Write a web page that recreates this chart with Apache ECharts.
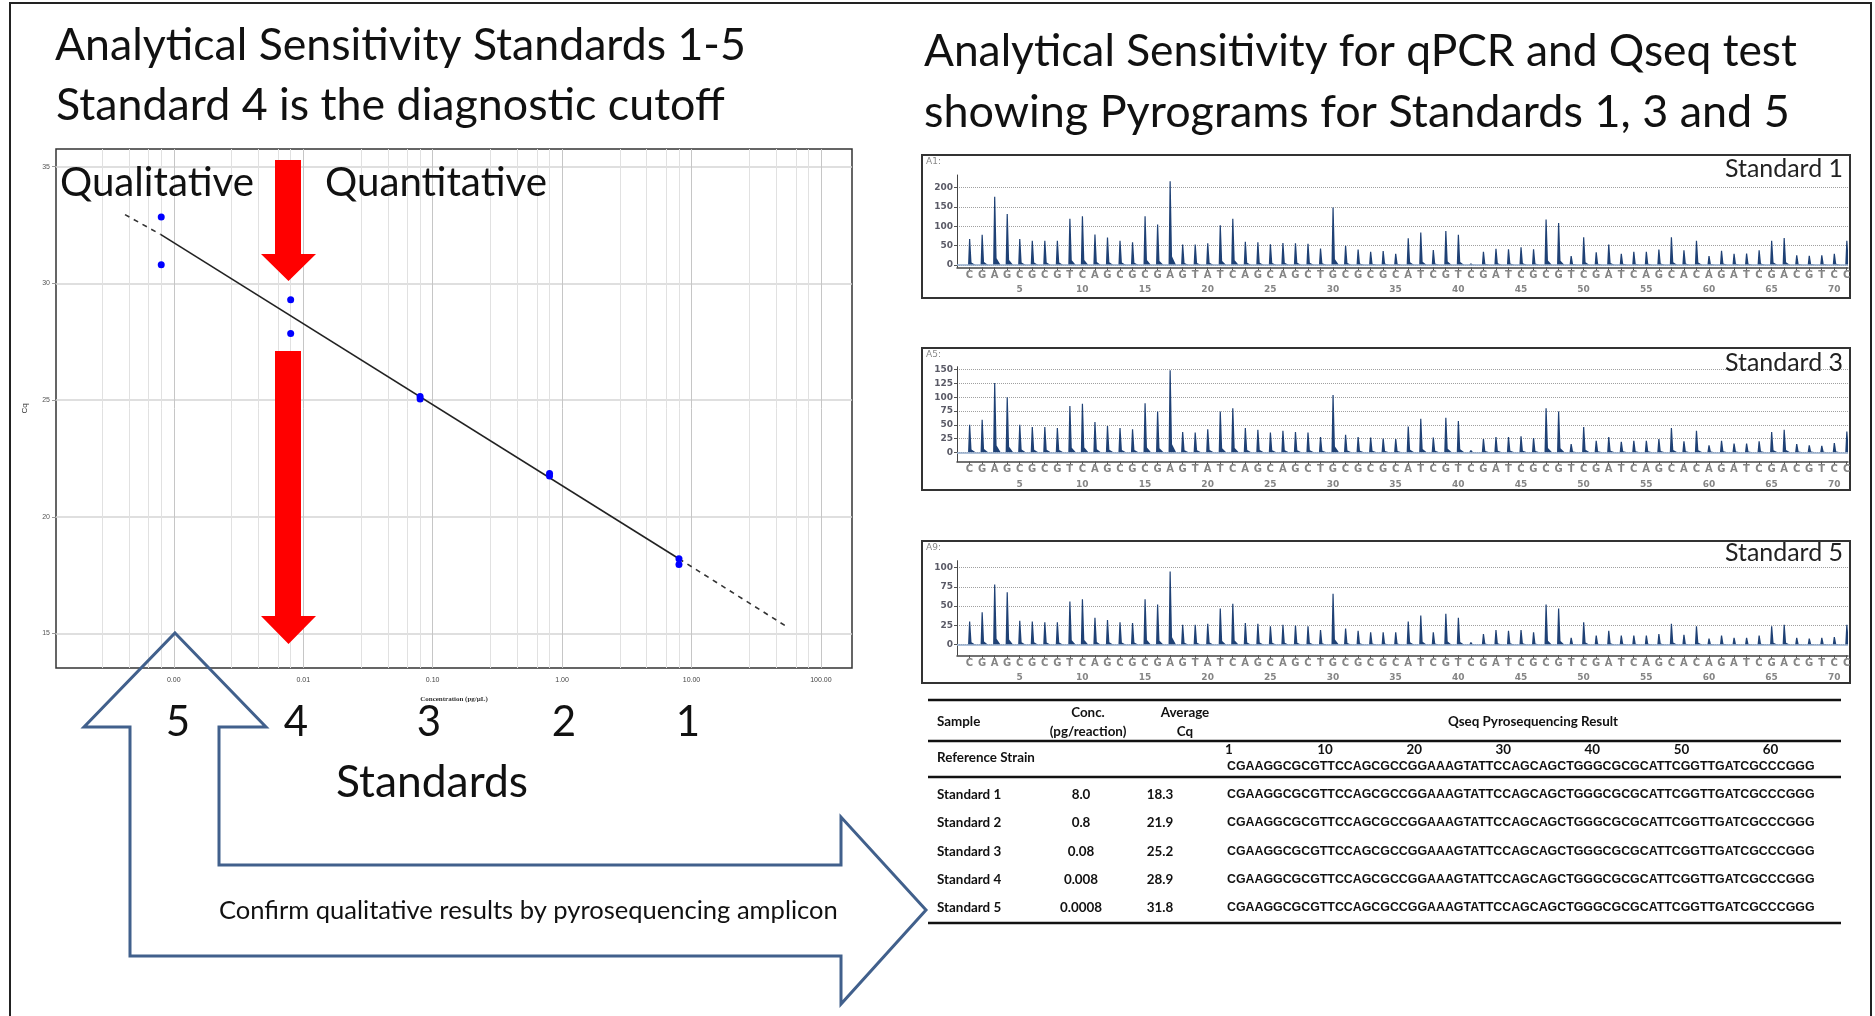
<!DOCTYPE html>
<html>
<head>
<meta charset="utf-8">
<title>Analytical Sensitivity</title>
<script src="https://cdn.jsdelivr.net/npm/echarts@6/dist/echarts.min.js"></script>
<style>
  html, body { margin: 0; padding: 0; background: #fff; }
  #main { width: 1875px; height: 1016px; }
</style>
</head>
<body>
<div id="main"></div>
<script>
// standard curve (qPCR)
var concPoints = [8, 8, 0.8, 0.8, 0.08, 0.08, 0.008, 0.008, 0.0008, 0.0008];
var cqPoints = [18.2, 17.95, 21.75, 21.85, 25.05, 25.15, 29.3, 27.85, 32.85, 30.8];
var fitConc = [0.00079, 8];
var fitCq = [32.1, 18.2];
var fitLeftConc = [0.00042, 0.00079];
var fitLeftCq = [32.95, 32.1];
var fitRightConc = [8, 56];
var fitRightCq = [18.2, 15.25];
var concTicks = [0.001, 0.01, 0.1, 1, 10, 100];
var minorSteps = [2.8, 4.5, 6.4, 8];
var cqTicks = [15, 20, 25, 30, 35];
var standardDigits = ['5', '4', '3', '2', '1'];

// pyrograms
var dispensation = 'CGAGCGCGTCAGCGCGAGTATCAGCAGCTGCGCGCATCGTCGATCGCGTCGATCAGCACAGATCGACGTCC'.split('');
var positionTicks = [5, 10, 15, 20, 25, 30, 35, 40, 45, 50, 55, 60, 65, 70];
var std1Peaks = [67, 78, 177, 132, 67, 63, 63, 63, 120, 126,
  79, 71, 63, 59, 126, 105, 217, 53, 53, 56,
  103, 120, 60, 59, 54, 57, 56, 55, 43, 149,
  50, 40, 34, 36, 29, 69, 84, 39, 88, 78,
  4, 34, 42, 41, 46, 41, 118, 109, 23, 72,
  33, 53, 29, 34, 34, 40, 72, 38, 63, 23,
  37, 29, 30, 38, 63, 70, 25, 24, 25, 29,
  63];
var std3Peaks = [50, 59, 126, 100, 50, 46, 46, 44, 84, 88,
  55, 48, 44, 42, 89, 74, 149, 37, 36, 42,
  74, 80, 44, 41, 36, 39, 37, 36, 28, 104,
  32, 28, 27, 25, 24, 47, 61, 27, 63, 57,
  4, 24, 28, 28, 29, 26, 80, 74, 15, 46,
  21, 28, 19, 21, 21, 24, 44, 20, 39, 13,
  21, 16, 16, 20, 37, 41, 15, 13, 12, 17,
  38];
var std5Peaks = [30, 42, 78, 68, 31, 30, 29, 29, 56, 59,
  35, 32, 29, 28, 59, 52, 95, 26, 26, 27,
  47, 53, 28, 27, 24, 26, 25, 24, 19, 66,
  21, 18, 16, 16, 16, 30, 38, 16, 40, 35,
  3, 14, 19, 18, 19, 16, 52, 47, 9, 29,
  12, 18, 12, 12, 12, 14, 27, 13, 24, 8,
  12, 9, 9, 12, 24, 26, 9, 8, 9, 10,
  26];
var std1Ticks = [0, 50, 100, 150, 200];
var std3Ticks = [0, 25, 50, 75, 100, 125, 150];
var std5Ticks = [0, 25, 50, 75, 100];
var wellNames = ['A1:', 'A5:', 'A9:'];
var pyroTitles = ['Standard 1', 'Standard 3', 'Standard 5'];

// results table
var tableSamples = ['Standard 1', 'Standard 2', 'Standard 3', 'Standard 4', 'Standard 5'];
var tableConc = ['8.0', '0.8', '0.08', '0.008', '0.0008'];
var tableCq = ['18.3', '21.9', '25.2', '28.9', '31.8'];
var referenceSeq = 'CGAAGGCGCGTTCCAGCGCCGGAAAGTATTCCAGCAGCTGGGCGCGCATTCGGTTGATCGCCCGGG';
var sampleSeqs = [referenceSeq, referenceSeq, referenceSeq, referenceSeq, referenceSeq];
var seqPositions = [1, 10, 20, 30, 40, 50, 60];

var measureCtx = document.createElement('canvas').getContext('2d');
function fitSize(str, family, weight, width) {
  measureCtx.font = weight + ' 100px "' + family + '"';
  return 100 * width / measureCtx.measureText(str).width;
}
function label(str, x, y, size, opts) {
  opts = opts || {};
  return {
    type: 'text', x: x, y: y, silent: true, z: 20,
    style: {
      text: str, fontSize: size, fontFamily: opts.family || 'Lato',
      fontWeight: opts.weight || 'normal', fill: opts.color || '#111',
      align: opts.align || 'left', verticalAlign: 'middle'
    }
  };
}
function fitLabel(str, x, y, width, opts) {
  opts = opts || {};
  var size = fitSize(str, opts.family || 'Lato', opts.weight || 'normal', width);
  return label(str, x, y, size, opts);
}
function hline(x1, x2, y, w) {
  return { type: 'line', silent: true, z: 20, shape: { x1: x1, y1: y, x2: x2, y2: y },
    style: { stroke: '#111', lineWidth: w } };
}
function toLog(arrC, arrQ) {
  return arrC.map(function (c, i) { return [Math.log10(c), arrQ[i]]; });
}

// gridline positions for the log axis
var majorLog = concTicks.map(Math.log10);
var minorLog = [];
for (var d = -4; d <= 2; d++) {
  minorSteps.forEach(function (s) {
    var v = d + Math.log10(s);
    if (v > -3.91 && v < 2.24) minorLog.push(v);
  });
}

// pyrogram panels
var pyroPeaks = [std1Peaks, std3Peaks, std5Peaks];
var pyroTicks = [std1Ticks, std3Ticks, std5Ticks];
var pyroRange = [[-6, 233], [-17, 155.5], [-13.8, 109]];
var pyroGrid = [[175, 92.3], [366.7, 95], [560.7, 94.6]];
var pyroBox = [[155, 143], [348, 142], [541, 142]];
var dispPositions = dispensation.map(function (c, i) { return i + 1; });

var grids = [{ left: 56, top: 149, width: 796, height: 519, show: true,
  borderColor: '#333', borderWidth: 1.5, backgroundColor: 'transparent' }];
var xAxes = [{
  gridIndex: 0, type: 'value', min: -3.91, max: 2.24, position: 'bottom',
  axisLine: { show: false, onZero: false },
  axisTick: { show: false, customValues: majorLog },
  axisLabel: { customValues: majorLog, fontSize: 7, color: '#444', margin: 9,
    fontFamily: 'Liberation Sans',
    formatter: function (v) { return Math.pow(10, v).toFixed(2); } },
  splitLine: { show: true, lineStyle: { color: '#c6c6c6', width: 1 } },
  name: 'Concentration (pg/\u00b5L)', nameLocation: 'middle', nameGap: 28,
  nameTextStyle: { fontSize: 7, fontWeight: 'bold', color: '#333', fontFamily: 'Liberation Serif' }
}, {
  gridIndex: 0, type: 'value', min: -3.91, max: 2.24, position: 'top',
  axisLine: { show: false, onZero: false },
  axisTick: { show: false, customValues: minorLog },
  axisLabel: { show: false },
  splitLine: { show: true, lineStyle: { color: '#e1e1e1', width: 1 } }
}];
var yAxes = [{
  gridIndex: 0, type: 'value', min: 13.52, max: 35.76,
  axisLine: { show: false, onZero: false },
  axisTick: { show: true, length: 4, customValues: cqTicks, lineStyle: { color: '#999' } },
  axisLabel: { customValues: cqTicks, fontSize: 7, color: '#555', margin: 6, fontFamily: 'Liberation Sans' },
  splitLine: { show: true, lineStyle: { color: '#d4d4d4', width: 1.5 } },
  name: 'Cq', nameLocation: 'middle', nameGap: 27,
  nameTextStyle: { fontSize: 8, color: '#333', fontFamily: 'Liberation Sans' }
}];

var series = [{
  type: 'line', xAxisIndex: 0, yAxisIndex: 0, data: toLog(fitConc, fitCq),
  symbol: 'none', lineStyle: { color: '#222', width: 1.6 }, z: 3
}, {
  type: 'line', xAxisIndex: 0, yAxisIndex: 0, data: toLog(fitLeftConc, fitLeftCq),
  symbol: 'none', lineStyle: { color: '#333', width: 1.6, type: [5, 5] }, z: 3
}, {
  type: 'line', xAxisIndex: 0, yAxisIndex: 0, data: toLog(fitRightConc, fitRightCq),
  symbol: 'none', lineStyle: { color: '#333', width: 1.6, type: [5, 5] }, z: 3
}, {
  type: 'scatter', xAxisIndex: 0, yAxisIndex: 0, data: toLog(concPoints, cqPoints),
  symbolSize: 7, itemStyle: { color: '#0000ff', opacity: 1 }, z: 5
}];

function peakItem(params, api) {
  var base = api.coord([api.value(0), 0]);
  var top = api.coord([api.value(0), api.value(1)]);
  var hgt = base[1] - top[1];
  return {
    type: 'polygon',
    shape: { points: [[base[0] - 1.5, base[1]], [top[0] - 0.5, top[1]], [top[0] + 0.7, top[1]],
      [base[0] + 2, base[1] - hgt * 0.1], [base[0] + 6, base[1]]] },
    style: { fill: '#1f4175' }
  };
}

pyroPeaks.forEach(function (peaks, k) {
  var g = k + 1;
  grids.push({ left: 957, top: pyroGrid[k][0], width: 891, height: pyroGrid[k][1] });
  xAxes.push({
    gridIndex: g, type: 'value', min: 0, max: 71.1, position: 'bottom',
    axisLine: { show: true, onZero: false, lineStyle: { color: '#444', width: 1.5 } },
    axisTick: { show: true, length: 3, customValues: dispPositions, lineStyle: { color: '#555' } },
    axisLabel: { customValues: dispPositions, fontSize: 10, fontWeight: 'bold', color: '#858585',
      fontFamily: 'DejaVu Sans', margin: 3,
      formatter: function (v) { return dispensation[v - 1]; } },
    splitLine: { show: false }
  });
  xAxes.push({
    gridIndex: g, type: 'value', min: 0, max: 71.1, position: 'bottom', offset: 0,
    axisLine: { show: false, onZero: false }, axisTick: { show: false },
    axisLabel: { customValues: positionTicks, fontSize: 9, fontWeight: 'bold', color: '#858585',
      fontFamily: 'DejaVu Sans', margin: 18 },
    splitLine: { show: false }
  });
  yAxes.push({
    gridIndex: g, type: 'value', min: pyroRange[k][0], max: pyroRange[k][1],
    axisLine: { show: true, onZero: false, lineStyle: { color: '#444' } },
    axisTick: { show: true, length: 3, customValues: pyroTicks[k], lineStyle: { color: '#555' } },
    axisLabel: { customValues: pyroTicks[k], fontSize: 9, fontWeight: 'bold', color: '#5a5a66',
      fontFamily: 'DejaVu Sans', margin: 4 },
    splitLine: { show: true, lineStyle: { color: '#a0a0a0', type: 'dotted' } }
  });
  series.push({
    type: 'custom', xAxisIndex: xAxes.length - 2, yAxisIndex: yAxes.length - 1,
    renderItem: peakItem, clip: true,
    data: peaks.map(function (v, i) { return [i + 1, v]; }),
    markLine: { silent: true, symbol: 'none', label: { show: false },
      lineStyle: { color: '#93abcb', width: 1.5, type: 'solid' }, data: [{ yAxis: 0 }] }
  });
});

// annotations, boxes and table
var graphics = [];
graphics.push({ type: 'rect', silent: true, shape: { x: 10, y: 3, width: 1861, height: 1030 },
  style: { fill: 'none', stroke: '#222', lineWidth: 2 } });
graphics.push(fitLabel('Analytical Sensitivity Standards 1-5', 55, 46, 691));
graphics.push(fitLabel('Standard 4 is the diagnostic cutoff', 56, 106, 669));
graphics.push(fitLabel('Analytical Sensitivity for qPCR and Qseq test', 924, 52, 873));
graphics.push(fitLabel('showing Pyrograms for Standards 1, 3 and 5', 924, 113, 866));
graphics.push(fitLabel('Qualitative', 60, 183, 194));
graphics.push(fitLabel('Quantitative', 325, 183, 222));

// red cutoff arrows
[[160, 254, 281], [351, 616, 644]].forEach(function (a) {
  graphics.push({ type: 'polygon', silent: true, z: 15,
    shape: { points: [[275, a[0]], [301, a[0]], [301, a[1]], [316, a[1]], [288.5, a[2]], [261, a[1]], [275, a[1]]] },
    style: { fill: '#ff0000' } });
});

var digitX = [178, 296, 429, 564, 688];
standardDigits.forEach(function (s, i) {
  graphics.push(label(s, digitX[i], 722, 42, { align: 'center' }));
});
graphics.push(fitLabel('Standards', 336, 783, 192));

// bent double arrow
graphics.push({ type: 'polygon', silent: true, z: 12,
  shape: { points: [[175, 633], [266, 727], [219, 727], [219, 865], [841, 865], [841, 817], [926, 910],
    [841, 1004], [841, 956], [130, 956], [130, 727], [84, 727]] },
  style: { fill: 'none', stroke: '#41608c', lineWidth: 3, lineJoin: 'miter' } });
graphics.push(fitLabel('Confirm qualitative results by pyrosequencing amplicon', 219, 911, 619));

// pyrogram frames and titles
var titleY = [169, 363, 552.5];
pyroBox.forEach(function (b, k) {
  graphics.push({ type: 'rect', silent: true, shape: { x: 922, y: b[0], width: 928, height: b[1] },
    style: { fill: 'none', stroke: '#333', lineWidth: 2 } });
  graphics.push(label(wellNames[k], 926, b[0] + 7, 9, { family: 'DejaVu Sans', color: '#888' }));
  graphics.push(fitLabel(pyroTitles[k], 1843, titleY[k], 118, { align: 'right', color: '#222' }));
});

// table
var tSize = fitSize('Reference Strain', 'Lato', 'bold', 98);
var seqSize = fitSize(referenceSeq, 'Liberation Sans', 'bold', 588);
var tOpt = { weight: 'bold', color: '#111' };
graphics.push(hline(928, 1841, 700, 2.5));
graphics.push(hline(928, 1841, 741, 2.5));
graphics.push(hline(928, 1841, 777, 2.5));
graphics.push(hline(928, 1841, 923, 2.5));
graphics.push(label('Sample', 937, 722, tSize, tOpt));
graphics.push(label('Conc.', 1088, 713, tSize, { weight: 'bold', align: 'center' }));
graphics.push(label('(pg/reaction)', 1088, 731.5, tSize, { weight: 'bold', align: 'center' }));
graphics.push(label('Average', 1185, 713, tSize, { weight: 'bold', align: 'center' }));
graphics.push(label('Cq', 1185, 731.5, tSize, { weight: 'bold', align: 'center' }));
graphics.push(label('Qseq Pyrosequencing Result', 1533, 722, tSize, { weight: 'bold', align: 'center' }));
graphics.push(label('Reference Strain', 937, 758, tSize, tOpt));
var charW = 588 / referenceSeq.length;
seqPositions.forEach(function (p) {
  var x = p === 1 ? 1229 : 1236 + p * charW;
  graphics.push(label(String(p), x, 750, tSize, { weight: 'bold', align: 'center' }));
});
graphics.push(label(referenceSeq, 1227, 767, seqSize, { weight: 'bold', family: 'Liberation Sans' }));
var rowY = [795, 823, 851.5, 880, 908];
tableSamples.forEach(function (s, i) {
  graphics.push(label(s, 937, rowY[i], tSize, tOpt));
  graphics.push(label(tableConc[i], 1081, rowY[i], tSize, { weight: 'bold', align: 'center' }));
  graphics.push(label(tableCq[i], 1160, rowY[i], tSize, { weight: 'bold', align: 'center' }));
  graphics.push(label(sampleSeqs[i], 1227, rowY[i], seqSize, { weight: 'bold', family: 'Liberation Sans' }));
});

var myChart = echarts.init(document.getElementById('main'), null, { renderer: 'canvas' });
myChart.setOption({
  animation: false,
  backgroundColor: '#fff',
  grid: grids,
  xAxis: xAxes,
  yAxis: yAxes,
  series: series,
  graphic: { elements: graphics }
});
</script>
</body>
</html>
